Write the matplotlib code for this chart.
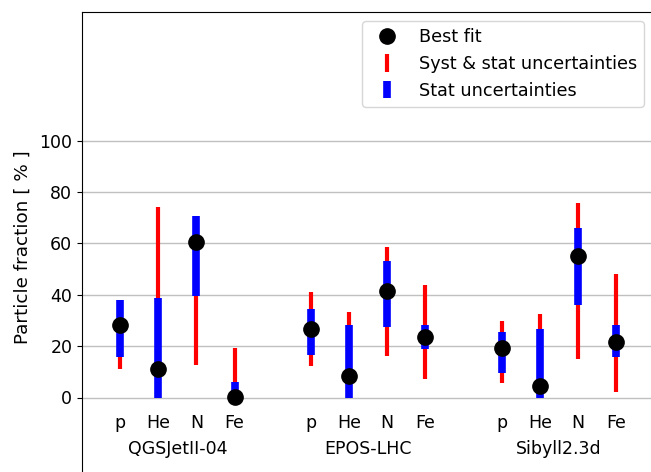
import numpy as np
import matplotlib
matplotlib.use("Agg")
import matplotlib.pyplot as plt

models = ["QGSJetII-04", "EPOS-LHC", "Sibyll2.3d"]
elements = ["p", "He", "N", "Fe"]

# best fit values [%], per model (p, He, N, Fe)
best = [[28.3, 11.2, 60.4, 0.3],
        [26.7, 8.3, 41.6, 23.5],
        [19.1, 4.4, 55.0, 21.5]]
# stat uncertainty band (low, high)
stat_lo = [[15.8, 0.0, 39.4, 0.0],
           [16.5, 0.0, 27.4, 18.7],
           [9.6, 0.0, 35.8, 15.7]]
stat_hi = [[38.0, 38.8, 70.5, 6.0],
           [34.6, 28.4, 53.0, 28.4],
           [25.4, 26.8, 66.0, 28.1]]
# syst & stat band (low, high)
tot_lo = [[11.2, 0.0, 12.5, 0.0],
          [12.2, 0.0, 16.3, 7.3],
          [5.7, 0.0, 14.8, 2.1]]
tot_hi = [[38.0, 74.0, 70.5, 19.3],
          [41.1, 33.3, 58.5, 43.7],
          [29.7, 32.6, 75.5, 48.2]]

fs = 12.5
fig = plt.figure(figsize=(6.51, 4.72), dpi=100)
ax = fig.add_axes([82 / 651, 1 - 12 / 472 - 462.6 / 472, 610.4 / 651, 462.6 / 472])

x = np.array([[0, 1, 2, 3], [5, 6, 7, 8], [10, 11, 12, 13]])
b = np.array(best)
slo, shi = np.array(stat_lo), np.array(stat_hi)
tlo, thi = np.array(tot_lo), np.array(tot_hi)

e_tot = ax.errorbar(x.ravel(), b.ravel(), yerr=[b.ravel() - tlo.ravel(), thi.ravel() - b.ravel()],
                    fmt="none", ecolor="red", elinewidth=3, zorder=2)
e_stat = ax.errorbar(x.ravel(), b.ravel(), yerr=[b.ravel() - slo.ravel(), shi.ravel() - b.ravel()],
                     fmt="none", ecolor="blue", elinewidth=5.5, zorder=3)
pts, = ax.plot(x.ravel(), b.ravel(), "o", color="black", markersize=11, zorder=4)

for i, m in enumerate(models):
    for j, el in enumerate(elements):
        ax.text(x[i, j], -10, el, ha="center", va="center", fontsize=fs)
    ax.text(x[i].mean(), -20, m, ha="center", va="center", fontsize=fs)

ax.set_xlim(-1, 15)
ax.set_ylim(-30, 150)
ax.set_xticks([])
ax.set_yticks([0, 20, 40, 60, 80, 100])
ax.tick_params(axis="y", labelsize=fs)
ax.yaxis.grid(True, color="#c0c0c0", linewidth=1)
ax.set_axisbelow(True)

fig.text(22.5 / 651, 1 - 247 / 472, "Particle fraction [ % ]", rotation=90,
         ha="center", va="center", fontsize=13.2)

ax.legend([pts, e_tot, e_stat],
          ["Best fit", "Syst & stat uncertainties", "Stat uncertainties"],
          loc="upper right", bbox_to_anchor=(644 / 651, 1 - 21 / 472),
          bbox_transform=fig.transFigure, borderaxespad=0, fontsize=12.7)

fig.savefig("out.png", dpi=100)
